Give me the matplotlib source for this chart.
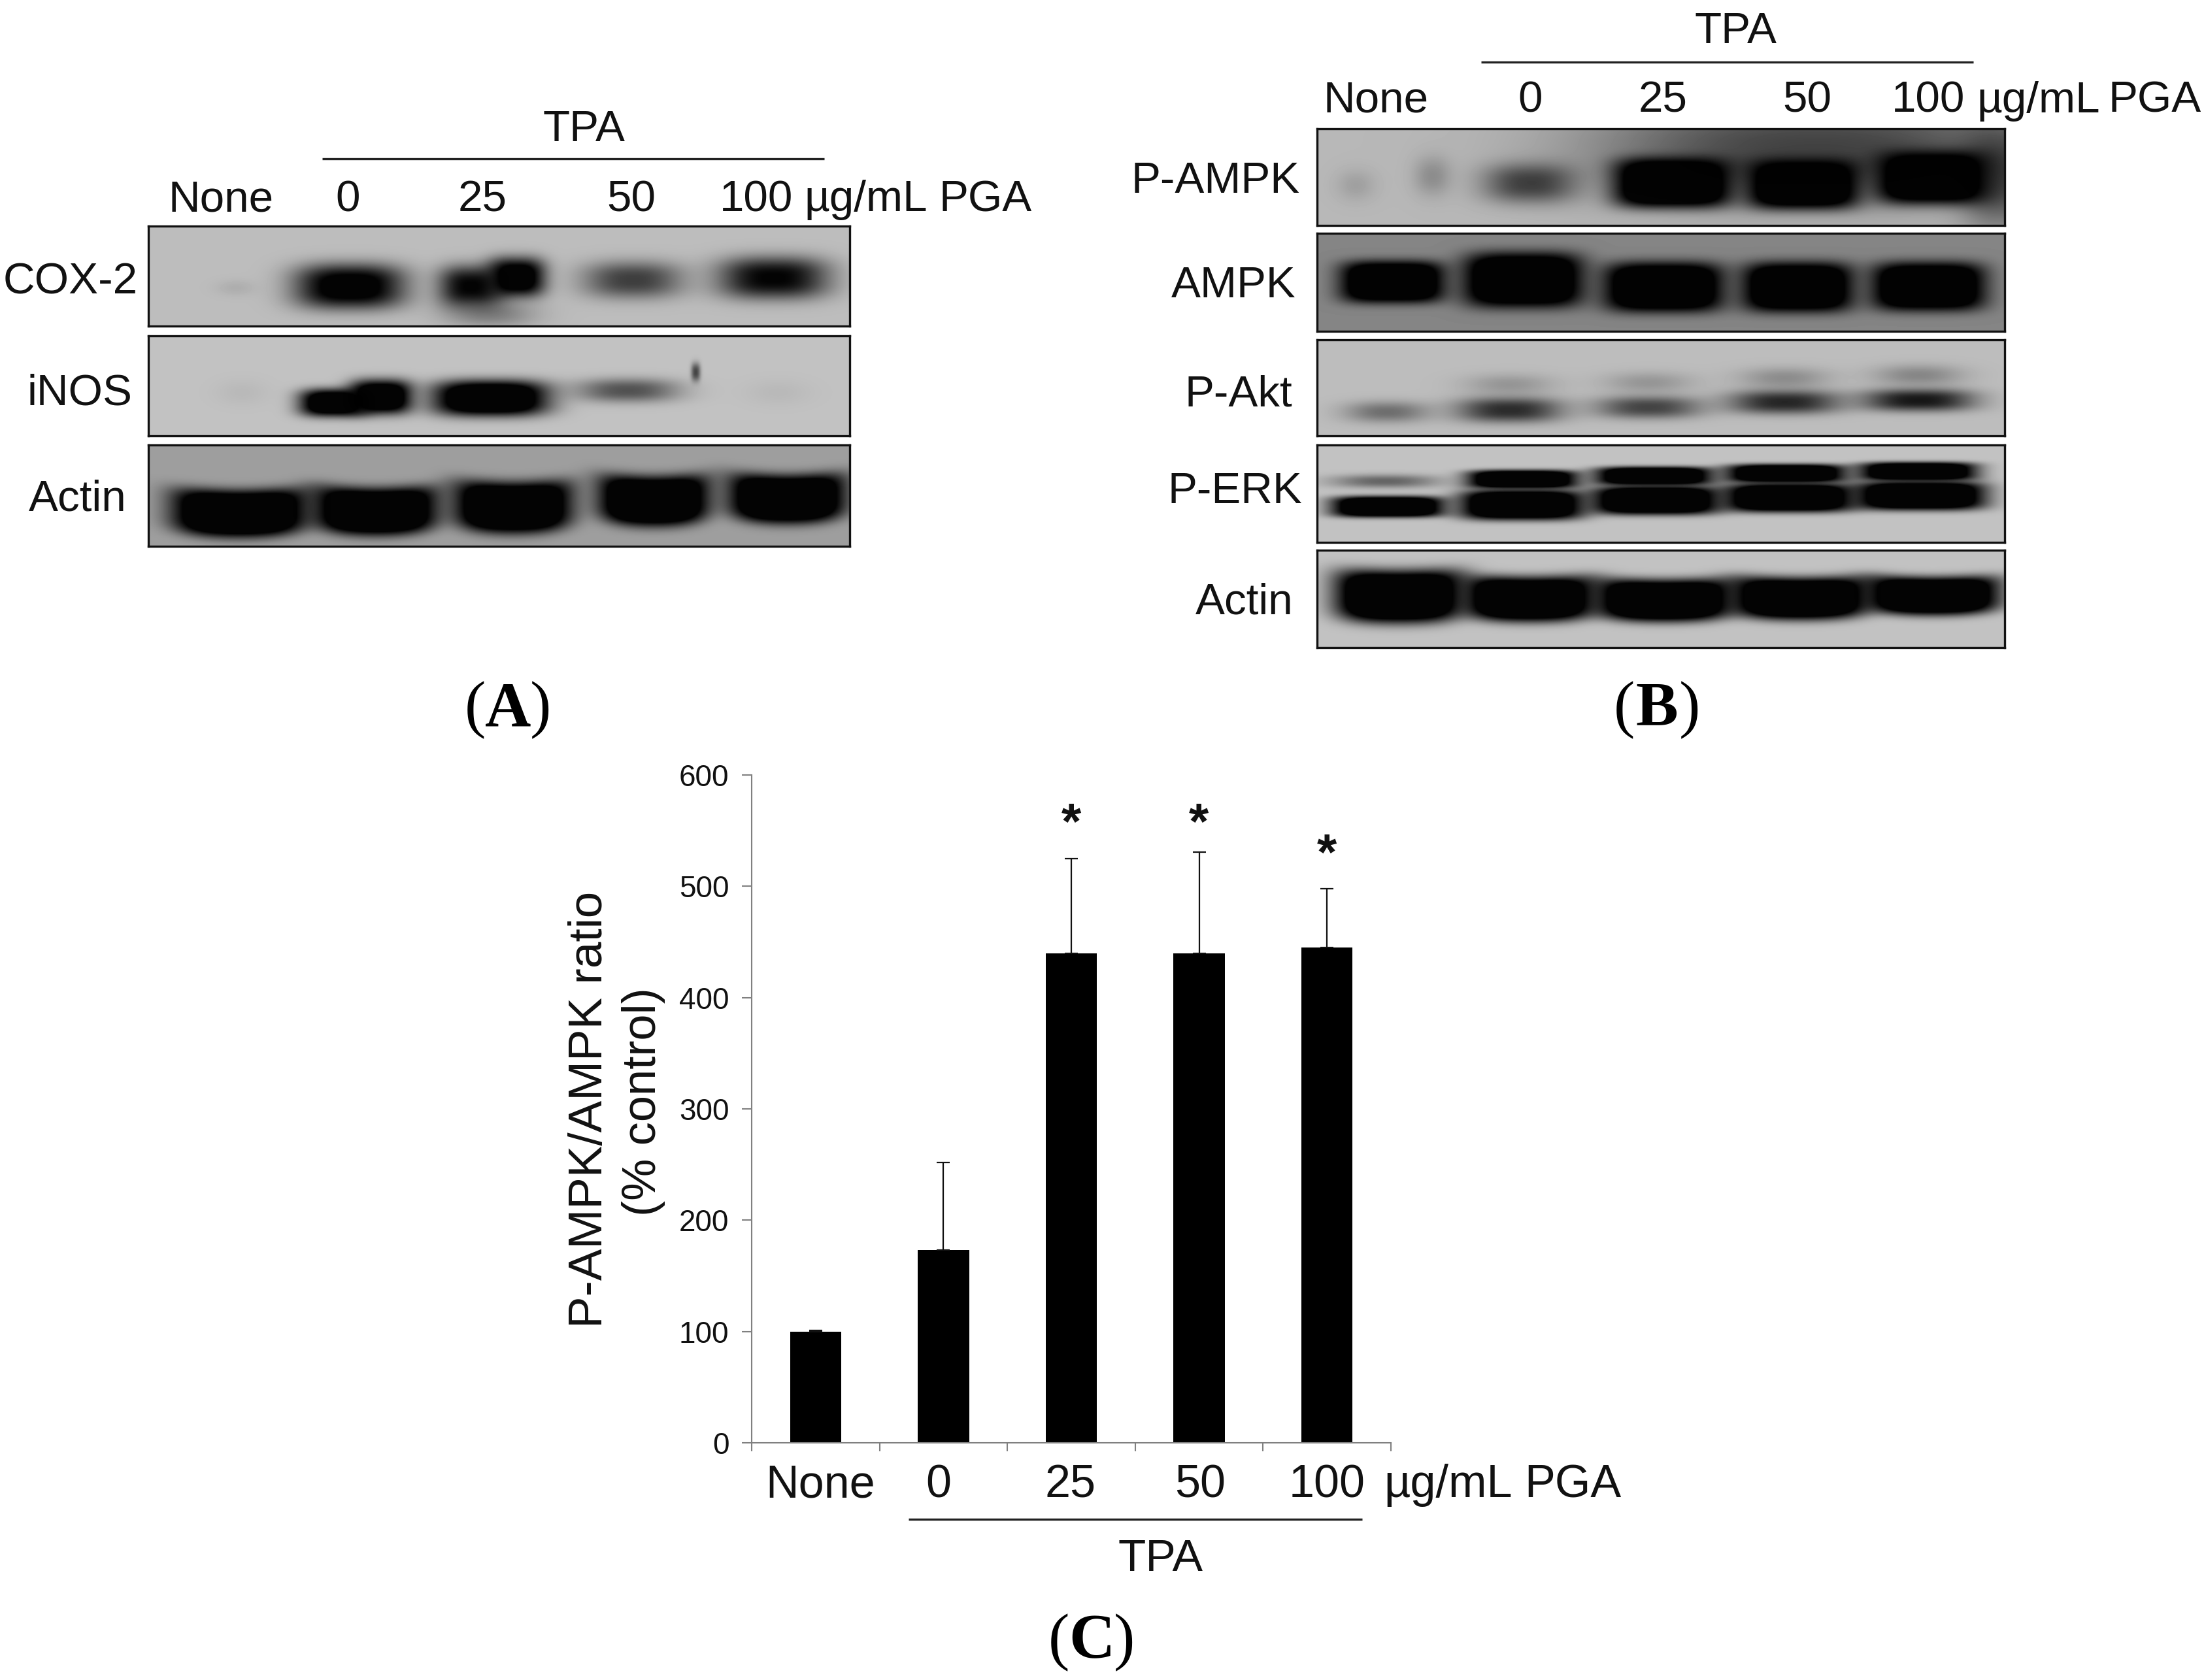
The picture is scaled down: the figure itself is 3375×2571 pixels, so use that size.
import numpy as np
import matplotlib
matplotlib.use('Agg')
import matplotlib.pyplot as plt

plt.rcParams['font.family'] = ['Liberation Sans', 'DejaVu Sans']

W, H = 3375, 2571

# bar chart values (panel C)
groups = ['None', '0', '25', '50', '100']
ratio = [100, 173, 440, 440, 445]
ratio_err = [1, 79, 85, 91, 53]
yticks_c = [0, 100, 200, 300, 400, 500, 600]

# band darkness read from the blots, 0 = nothing, 1 = black
cox2_lv = [0.05, 0.72, 0.62, 0.78, 0.2, 0.42, 0.62]
inos_lv = [0.03, 0.9, 0.9, 0.95, 0.36, 0.03, 0.4]
actin_a_lv = [1.0, 1.0, 1.0, 1.0, 1.0]
pampk_lv = [0.4, 0.35, 0.14, 0.08, 0.4, 1.0, 1.0, 1.0]
ampk_lv = [1.0, 1.0, 1.0, 1.0, 1.0]
pakt_lv = [0.26, 0.48, 0.13, 0.4, 0.13, 0.5, 0.16, 0.55, 0.18]
perk_lv = [0.3, 1.0, 1.0, 1.0, 1.0, 1.0, 1.0, 1.0, 1.0, 1.0]
actin_b_lv = [1.0, 1.0, 1.0, 1.0, 1.0]

# band shapes in picture pixels: centre x, centre y, half width, half height
cox2_geo = [(360, 440, 30, 12), (535, 438, 84, 34), (720, 438, 50, 32), (790, 424, 44, 30),
            (750, 480, 70, 20), (968, 428, 76, 28), (1183, 425, 84, 32)]
inos_geo = [(370, 600, 40, 20), (510, 616, 52, 21), (582, 607, 48, 26), (750, 609, 88, 27),
            (960, 597, 78, 18), (1190, 600, 50, 20), (1064, 569, 7, 14)]
actin_a_geo = [(366, 786, 104, 36), (575, 783, 94, 36), (785, 777, 90, 39),
               (1000, 767, 85, 38), (1204, 764, 90, 37)]
pampk_geo = [(2780, 230, 340, 80), (3060, 270, 60, 80), (2191, 269, 28, 30), (2074, 283, 30, 24),
             (2340, 280, 70, 30), (2559, 279, 90, 38), (2758, 281, 85, 38), (2956, 271, 85, 40)]
ampk_geo = [(2130, 431, 80, 32), (2330, 428, 92, 42), (2545, 439, 92, 38),
            (2750, 439, 85, 38), (2950, 438, 87, 37)]
pakt_geo = [(2122, 630, 64, 16), (2309, 627, 80, 19), (2309, 588, 68, 16), (2522, 623, 80, 17),
            (2522, 585, 68, 16), (2730, 615, 85, 18), (2730, 578, 68, 16), (2935, 612, 85, 17),
            (2935, 574, 68, 16)]
perk_geo = [(2119, 736, 82, 10), (2123, 775, 86, 16), (2329, 733, 84, 14), (2328, 772, 94, 23),
            (2530, 728, 89, 14), (2533, 765, 97, 22), (2732, 724, 91, 14), (2737, 761, 99, 22),
            (2934, 721, 89, 14), (2938, 758, 99, 22)]
actin_b_geo = [(2140, 913, 98, 40), (2340, 917, 100, 34), (2546, 919, 105, 32),
               (2754, 916, 105, 32), (2957, 912, 102, 29)]

fig = plt.figure(figsize=(W / 100, H / 100), dpi=100, facecolor='white')

# overlay in picture pixels for labels and brackets
ov = fig.add_axes([0, 0, 1, 1], zorder=5)
ov.set_xlim(0, W)
ov.set_ylim(H, 0)
ov.axis('off')


def blot(x0, x1, y0, y1, bg, levels, geo, bend=0):
    ax = fig.add_axes([x0 / W, 1 - y1 / H, (x1 - x0) / W, (y1 - y0) / H])
    xx, yy = np.meshgrid(np.arange(x0, x1), np.arange(y0, y1))
    img = np.full(xx.shape, float(bg))
    for lv, (cx, cy, hw, hh) in zip(levels, geo):
        # faint bands get softer edges, bend makes the smile shape of the actin bands
        p = 4 if lv >= 1 else 2 + 1.2 * lv
        dx = (xx - cx) / hw
        dy = (yy - cy + bend * dx ** 2) / hh
        f = np.exp(-(np.abs(dx) ** p + np.abs(dy) ** p))
        img = img * (1 - np.clip(lv * 1.6 * f, 0, 0.98))
    ax.imshow(img, cmap='gray', vmin=0, vmax=1, aspect='auto', interpolation='bilinear')
    ax.set_xticks([])
    ax.set_yticks([])
    for s in ax.spines.values():
        s.set_linewidth(2.4)
        s.set_color('#111111')


def label(x, y, s, size=48.5, **kw):
    ov.text(x, y + 5, s, fontsize=size, ha='center', va='center', color='#111111', **kw)


def bracket(x0, x1, y):
    ov.plot([x0, x1], [y, y], color='#222222', lw=2.4, solid_capstyle='butt')


def panel_tag(cx, cy, letter):
    ov.text(cx - 50, cy, '(', fontsize=70, family='Liberation Serif', ha='center', va='center', color='black')
    ov.text(cx, cy, letter, fontsize=70, family='Liberation Serif', weight='bold', ha='center', va='center', color='black')
    ov.text(cx + 50, cy, ')', fontsize=70, family='Liberation Serif', ha='center', va='center', color='black')


# panel A
blot(227, 1300, 346, 499, 0.74, cox2_lv, cox2_geo)
blot(227, 1300, 514, 667, 0.76, inos_lv, inos_geo)
blot(227, 1300, 681, 836, 0.62, actin_a_lv, actin_a_geo, bend=8)
label(893, 194, 'TPA')
bracket(493, 1261, 243)
for x, s in zip([338, 532, 738, 966, 1157, 1325, 1508], ['None', '0', '25', '50', '100', 'µg/mL', 'PGA']):
    label(x, 301, s)
label(108, 427, 'COX-2')
label(122, 597, 'iNOS')
label(119, 759, 'Actin')
panel_tag(777, 1087, 'A')

# panel B
blot(2015, 3067, 197, 345, 0.72, pampk_lv, pampk_geo)
blot(2015, 3067, 357, 507, 0.52, ampk_lv, ampk_geo)
blot(2015, 3067, 520, 667, 0.74, pakt_lv, pakt_geo)
blot(2015, 3067, 681, 830, 0.76, perk_lv, perk_geo)
blot(2015, 3067, 842, 991, 0.76, actin_b_lv, actin_b_geo, bend=5)
label(2656, 44, 'TPA')
bracket(2266, 3019, 95)
for x, s in zip([2105, 2341, 2544, 2765, 2950, 3119, 3297], ['None', '0', '25', '50', '100', 'µg/mL', 'PGA']):
    label(x, 150, s)
label(1860, 273, 'P-AMPK')
label(1887, 433, 'AMPK')
label(1895, 600, 'P-Akt')
label(1889, 748, 'P-ERK')
label(1904, 917, 'Actin')
panel_tag(2535, 1087, 'B')

# panel C, the real bar chart
ax = fig.add_axes([1150 / W, 1 - 2208 / H, (2128 - 1150) / W, (2208 - 1186) / H])
xpos = np.arange(1, len(groups) + 1)
ax.bar(xpos, ratio, width=0.4, color='black',
       yerr=[np.zeros(len(ratio)), ratio_err],
       error_kw=dict(ecolor='#111111', elinewidth=1.6, capsize=7, capthick=1.6))
ax.set_xlim(0.5, 5.5)
ax.set_ylim(0, 600)
ax.set_yticks(yticks_c)
ax.set_xticks(np.arange(0.5, 6))
ax.set_xticklabels([])
ax.tick_params(axis='y', length=11, width=1.5, color='#808080', labelsize=33, labelcolor='#111111', pad=14)
ax.tick_params(axis='x', length=9, width=1.5, color='#808080')
ax.spines['top'].set_visible(False)
ax.spines['right'].set_visible(False)
ax.spines['left'].set_color('#808080')
ax.spines['bottom'].set_color('#808080')
ax.spines['left'].set_linewidth(1.5)
ax.spines['bottom'].set_linewidth(1.5)
ax.patch.set_alpha(0)

for x, s in zip([1255, 1436, 1637, 1836, 2030, 2215, 2406], groups + ['µg/mL', 'PGA']):
    label(x, 2268, s, size=50.5)
bracket(1390, 2084, 2325)
label(1776, 2381, 'TPA', size=50)
label(1639, 1258, '*', size=56, weight='bold')
label(1834, 1258, '*', size=56, weight='bold')
label(2030, 1305, '*', size=56, weight='bold')
ov.text(902, 1698, 'P-AMPK/AMPK ratio', fontsize=52.5, rotation=90, ha='center', va='center', color='#111111')
ov.text(984, 1686, '(% control)', fontsize=52, rotation=90, ha='center', va='center', color='#111111')
panel_tag(1670, 2514, 'C')

fig.savefig('out.png', dpi=100, facecolor='white')
